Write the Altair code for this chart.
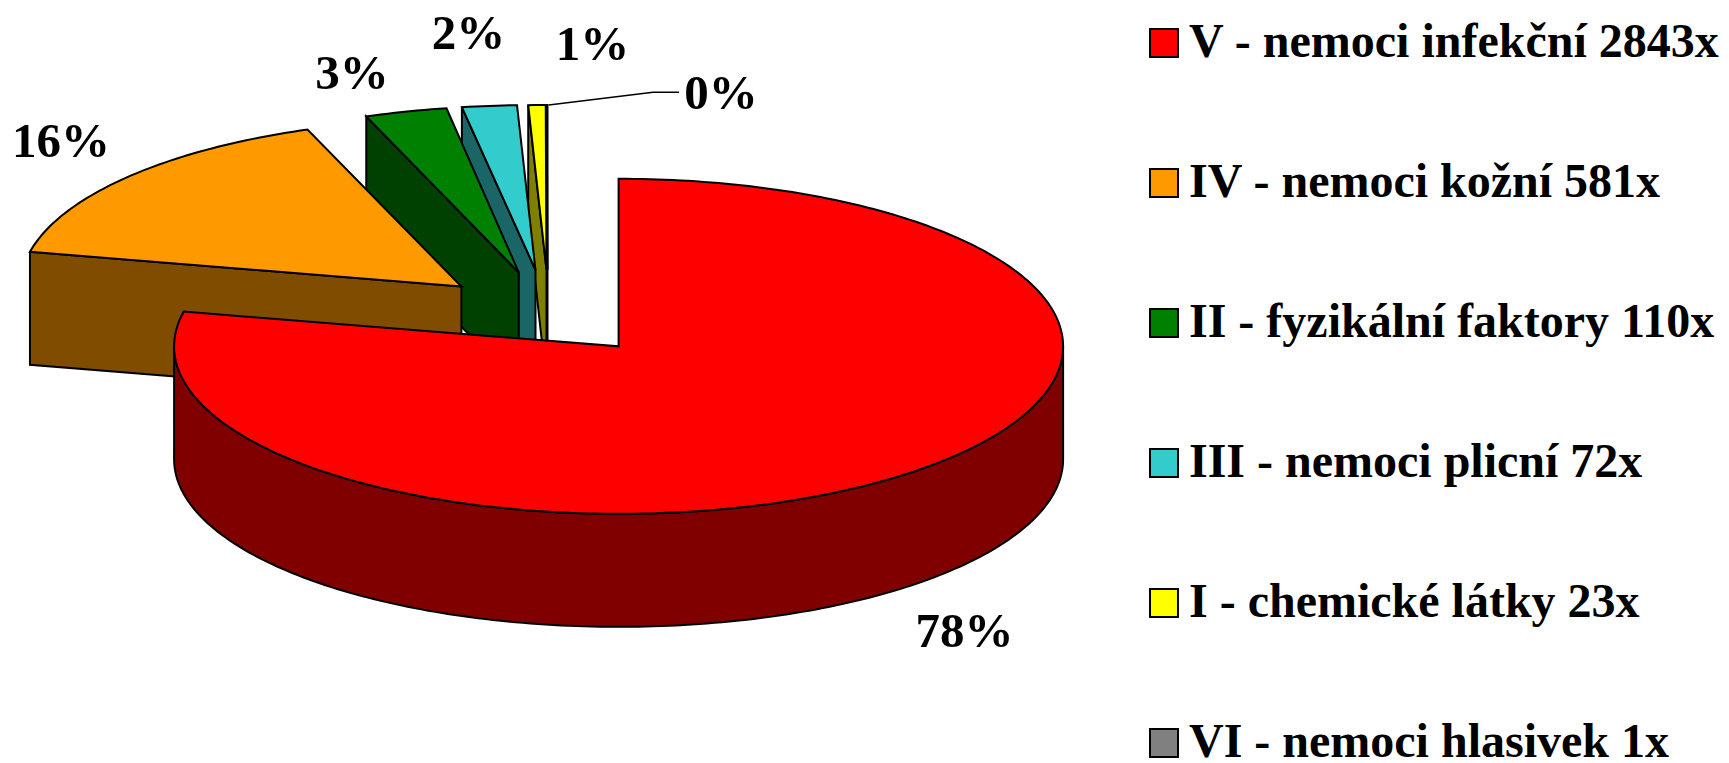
import math
import altair as alt
import pandas as pd

# --- chart values ---
categories = ["V - nemoci infekční 2843x", "IV - nemoci kožní 581x", "II - fyzikální faktory 110x",
              "III - nemoci plicní 72x", "I - chemické látky 23x", "VI - nemoci hlasivek 1x"]
counts = [2843, 581, 110, 72, 23, 1]
percent_labels = ["78%", "16%", "3%", "2%", "1%", "0%"]

# --- styles ---
top_colors = ["#FF0000", "#FF9900", "#008000", "#33CCCC", "#FFFF00", "#808080"]
wall_colors = ["#800000", "#804D00", "#004000", "#1A6666", "#808000", "#404040"]

# --- layout (page pixels) ---
DEPTH = 113
radius_x = [444.5, 441, 437, 445, 440, 445]
radius_y = [167.5, 167.5, 166.5, 165, 165, 165]
apex_x = [618.6, 461.4, 518.8, 535.5, 546.5, 547.5]
apex_y = [346.3, 286.5, 272.5, 270.0, 270.0, 270.0]
label_x = [964.5, 61, 352, 468.5, 592.5, 721]
label_y = [647, 157, 88.7, 49, 60, 108.7]
leader_x = [548.7, 653, 679]
leader_y = [105, 92.3, 92.3]
SERIF = "Liberation Serif"
W, H = 1713, 755

total = sum(counts)
sweeps = [c / total * 360 for c in counts]
starts = [sum(sweeps[:i]) for i in range(len(sweeps))]


def rim(i, a, dz=0):
    t = math.radians(a)
    return apex_x[i] + radius_x[i] * math.sin(t), apex_y[i] - radius_y[i] * math.cos(t) + dz


def arc(i, a0, a1, dz=0):
    n = max(2, int(abs(a1 - a0)) + 1)
    return [rim(i, a0 + (a1 - a0) * k / n, dz) for k in range(n + 1)]


def top_poly(i):
    return [(apex_x[i], apex_y[i])] + arc(i, starts[i], starts[i] + sweeps[i])


def wall_poly(i):
    if i == 0:  # the big slice shows its outer rim
        return arc(0, 90, 270) + arc(0, 270, 90, DEPTH)
    s = rim(i, starts[i])
    s2 = rim(i, starts[i], DEPTH)
    return [s, (apex_x[i], apex_y[i]), (apex_x[i], apex_y[i] + DEPTH), s2]


xs = alt.X("x:Q", axis=None, scale=alt.Scale(domain=[8, 8 + W], nice=False, zero=False))
ys = alt.Y("y:Q", axis=None, scale=alt.Scale(domain=[8, 8 + H], nice=False, zero=False, reverse=True))


def frame(points, **extra):
    d = pd.DataFrame(points, columns=["x", "y"])
    d["k"] = range(len(d))
    for key, val in extra.items():
        d[key] = val
    return d


layers = []
draw_order = [5, 4, 3, 2, 1, 0]
for i in draw_order:
    layers.append(
        alt.Chart(frame(wall_poly(i))).mark_line(
            interpolate="linear-closed", fill=wall_colors[i], stroke="black", strokeWidth=2, clip=False
        ).encode(x=xs, y=ys, order="k:Q")
    )

legend = alt.Legend(
    title=None, orient="none", legendX=1132, legendY=11, symbolType="square", symbolSize=784,
    symbolStrokeColor="black", symbolStrokeWidth=2, symbolOpacity=1, labelFont=SERIF, labelFontSize=48,
    labelFontWeight="bold", labelColor="black", labelLimit=700, rowPadding=92, labelOffset=1,
    padding=0, offset=0,
)
fill_scale = alt.Scale(domain=categories, range=top_colors)
for i in draw_order:
    layers.append(
        alt.Chart(frame(top_poly(i), category=categories[i])).mark_line(
            interpolate="linear-closed", filled=True, stroke="black", strokeWidth=2, clip=False
        ).encode(
            x=xs, y=ys, order="k:Q",
            fill=alt.Fill("category:N", scale=fill_scale, legend=legend),
        )
    )

layers.append(
    alt.Chart(pd.DataFrame({"x": leader_x, "y": leader_y, "k": [0, 1, 2]})).mark_line(
        stroke="black", strokeWidth=1.5
    ).encode(x=xs, y=ys, order="k:Q")
)
layers.append(
    alt.Chart(pd.DataFrame({"x": label_x, "y": label_y, "t": percent_labels})).mark_text(
        font=SERIF, fontSize=49, fontWeight="bold", color="black", align="center", baseline="alphabetic"
    ).encode(x=xs, y=ys, text="t:N")
)

chart = alt.layer(*layers).resolve_scale(fill="shared").properties(
    width=W, height=H, padding=0,
    autosize=alt.AutoSizeParams(type="none", contains="content"),
).configure_view(stroke=None)

chart.save("out.html", embed_options={"renderer": "svg", "actions": False})
